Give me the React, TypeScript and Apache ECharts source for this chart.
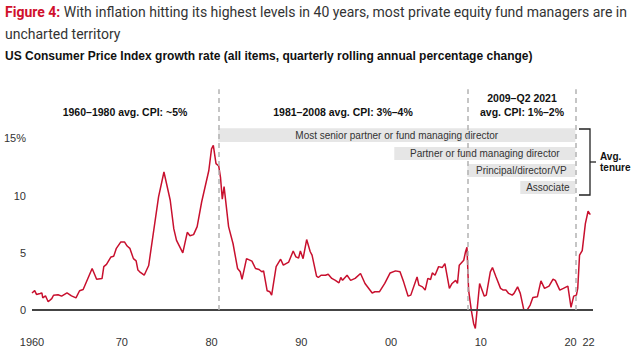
import React, { useEffect, useRef } from "react";
import * as echarts from "echarts";

// CPI growth rate (year, % change)
const years: number[] = [
  1960.0, 1960.3, 1960.5, 1960.9, 1961.1, 1961.2, 1961.5, 1961.8, 1962.2, 1962.4,
  1962.9, 1963.3, 1963.9, 1964.4, 1964.9, 1965.3, 1965.7, 1966.7, 1967.2, 1967.8,
  1968.0, 1968.3, 1968.8, 1969.1, 1969.4, 1969.9, 1970.3, 1970.6, 1970.9, 1971.3,
  1971.6, 1971.8, 1972.0, 1972.5, 1973.0, 1974.1, 1974.7, 1975.4, 1975.8, 1976.1,
  1976.8, 1977.3, 1977.6, 1978.0, 1978.4, 1978.9, 1979.7, 1980.0, 1980.2, 1980.5,
  1980.8, 1981.0, 1981.2, 1981.4, 1981.9, 1982.4, 1982.9, 1983.2, 1983.4, 1983.9,
  1984.5, 1984.9, 1985.3, 1985.6, 1985.8, 1986.2, 1986.5, 1986.7, 1987.2, 1987.7,
  1988.0, 1988.6, 1989.1, 1989.4, 1989.7, 1989.9, 1990.2, 1990.6, 1991.0, 1991.2,
  1991.7, 1991.9, 1992.2, 1992.7, 1993.0, 1993.4, 1993.8, 1994.2, 1994.4, 1994.6,
  1995.1, 1995.5, 1996.0, 1996.6, 1997.1, 1997.9, 1998.2, 1998.7, 1999.3, 1999.9,
  2000.5, 2001.0, 2001.4, 2001.9, 2002.2, 2002.9, 2003.1, 2003.5, 2003.8, 2004.1,
  2004.4, 2004.6, 2004.9, 2005.3, 2005.7, 2006.0, 2006.5, 2006.8, 2007.2, 2007.4,
  2007.6, 2008.1, 2008.3, 2008.46, 2008.64, 2008.94, 2009.2, 2009.39, 2009.87, 2010.39,
  2010.61, 2011.06, 2011.3, 2011.7, 2012.2, 2012.5, 2012.8, 2013.1, 2013.5, 2013.7,
  2014.1, 2014.4, 2014.8, 2015.15, 2015.5, 2015.8, 2016.3, 2016.7, 2017.1, 2017.6,
  2018.05, 2018.3, 2018.8, 2019.2, 2019.7, 2020.05, 2020.35, 2020.65, 2020.8, 2021.0,
  2021.3, 2021.65, 2021.95, 2022.2,
];
const cpi: number[] = [
  1.5, 1.7, 1.37, 1.45, 1.5, 1.07, 1.25, 0.73, 1.0, 1.3,
  1.34, 1.22, 1.5, 1.25, 1.07, 1.69, 1.8, 3.64, 2.7, 2.76,
  3.8, 4.0, 4.65, 4.7, 5.4, 5.96, 5.96, 5.6, 5.4, 4.5,
  4.3, 3.5, 3.35, 3.05, 3.9, 9.9, 12.07, 9.6, 7.1, 6.1,
  5.0, 6.8, 6.5, 6.6, 7.3, 9.45, 12.2, 14.1, 14.4, 12.8,
  12.6, 11.6, 9.7, 10.8, 7.3, 5.8, 3.64, 3.35, 2.68, 4.5,
  4.28, 3.64, 3.55, 3.35, 3.43, 1.69, 1.6, 1.31, 3.8, 4.45,
  3.93, 4.2, 5.17, 4.65, 4.56, 5.17, 4.5, 6.17, 5.1, 4.8,
  2.97, 2.85, 3.05, 3.05, 3.14, 2.77, 2.6, 2.38, 2.85, 2.6,
  3.05, 2.6, 2.77, 3.2, 2.33, 1.5, 1.6, 1.6, 2.33, 3.25,
  3.43, 3.35, 2.47, 1.22, 1.31, 2.9, 2.18, 2.03, 1.75, 2.77,
  2.68, 3.25, 3.05, 3.8, 3.72, 4.07, 1.9, 2.33, 2.6, 2.33,
  3.93, 4.36, 5.1, 5.5, 1.75, 0.0, -1.16, -1.6, 2.33, 1.22,
  1.31, 3.35, 3.72, 2.9, 1.9, 1.75, 1.75, 1.46, 1.31, 1.46,
  2.03, 1.46, 0.0, 0.0, 0.44, 1.1, 1.16, 2.56, 1.9, 2.1,
  2.7, 2.6, 1.75, 1.9, 2.1, 0.24, 1.22, 1.31, 1.9, 4.8,
  5.2, 7.56, 8.64, 8.35,
];

const xTickValues: number[] = [1960, 1970, 1980, 1990, 2000, 2010, 2020, 2022];
const yTickValues: number[] = [0, 5, 10, 15];

// era separators (x positions in years)
const eraBreaks: number[] = [1980.85, 2008.53, 2020.53];

// average-tenure bars: start year, end year, top value, bottom value
const tenureLabels: string[] = [
  "Most senior partner or fund managing director",
  "Partner or fund managing director",
  "Principal/director/VP",
  "Associate",
];
const tenureStart: number[] = [1980.74, 2000.36, 2008.5, 2014.4];
const tenureEnd: number[] = [2020.53, 2020.53, 2020.53, 2020.53];
const tenureTop: number[] = [15.9, 14.25, 12.76, 11.28];
const tenureBottom: number[] = [14.69, 13.11, 11.63, 10.14];

const RED = "#c8102e";
const TEXT = "#333333";
const SANS = "'Liberation Sans', Arial, Helvetica, sans-serif";

export default function App() {
  const ref = useRef<HTMLDivElement>(null);

  useEffect(() => {
    document.body.style.margin = "0";
    if (!ref.current) return;
    const chart = echarts.init(ref.current, undefined, { renderer: "svg" });

    const lineData = years.map((y, i) => [y, cpi[i]]);

    const option: any = {
      animation: false,
      backgroundColor: "#ffffff",
      grid: { left: 32, right: 39, top: 87, bottom: 30, containLabel: false },
      xAxis: {
        type: "value",
        min: 1960,
        max: 2022.5,
        axisLine: { show: false },
        axisTick: { show: false },
        splitLine: { show: false },
        axisLabel: {
          customValues: xTickValues,
          color: TEXT,
          fontSize: 11,
          fontFamily: SANS,
          margin: 3,
          formatter: (v: number) =>
            v === 1960 ? "1960" : String(Math.round(v) % 100).padStart(2, "0"),
        },
      },
      yAxis: {
        type: "value",
        min: -2,
        max: 19.5,
        axisLine: { show: false },
        axisTick: { show: false },
        splitLine: { show: false },
        axisLabel: {
          customValues: yTickValues,
          color: TEXT,
          fontSize: 11,
          fontFamily: SANS,
          margin: 6,
          formatter: (v: number) => (v === 15 ? "15%" : String(v)),
        },
      },
      series: [
        {
          type: "line",
          data: lineData,
          showSymbol: false,
          symbol: "none",
          lineStyle: { color: RED, width: 1.5 },
          z: 3,
          markArea: {
            silent: true,
            itemStyle: { color: "#e6e6e6" },
            label: {
              show: true,
              position: "inside",
              color: TEXT,
              fontSize: 10,
              fontFamily: SANS,
            },
            data: tenureLabels.map((name, i) => [
              { name, coord: [tenureStart[i], tenureTop[i]] },
              { coord: [tenureEnd[i], tenureBottom[i]] },
            ]),
          },
          markLine: {
            silent: true,
            symbol: ["none", "none"],
            label: { show: false },
            data: [
              {
                yAxis: 0,
                lineStyle: { color: "#444444", width: 2, type: "solid" },
              },
              ...eraBreaks.map((x) => [
                {
                  coord: [x, 0],
                  lineStyle: { color: "#b3b3b3", width: 1.5, type: [5, 4] },
                },
                { coord: [x, 19.3] },
              ]),
            ],
          },
        },
      ],
      graphic: [
        {
          type: "text",
          left: 5,
          top: 5,
          style: {
            text: "{r|Figure 4:} With inflation hitting its highest levels in 40 years, most private equity fund managers are in",
            fill: TEXT,
            fontSize: 14,
            fontFamily: "Roboto, sans-serif",
            rich: {
              r: { fill: "#d0102c", fontWeight: "bold", fontSize: 14, fontFamily: "Roboto, sans-serif" },
            },
          },
        },
        {
          type: "text",
          left: 5,
          top: 27,
          style: {
            text: "uncharted territory",
            fill: TEXT,
            fontSize: 14,
            fontFamily: "Roboto, sans-serif",
          },
        },
        {
          type: "text",
          left: 5,
          top: 50,
          style: {
            text: "US Consumer Price Index growth rate (all items, quarterly rolling annual percentage change)",
            fill: "#111111",
            fontSize: 12,
            fontWeight: "bold",
            fontFamily: SANS,
          },
        },
        {
          type: "text",
          x: 125,
          y: 112,
          style: {
            text: "1960–1980 avg. CPI: ~5%",
            fill: "#111111",
            fontSize: 10.5,
            fontWeight: "bold",
            fontFamily: SANS,
            textAlign: "center",
            textVerticalAlign: "middle",
          },
        },
        {
          type: "text",
          x: 343,
          y: 112,
          style: {
            text: "1981–2008 avg. CPI: 3%–4%",
            fill: "#111111",
            fontSize: 10.5,
            fontWeight: "bold",
            fontFamily: SANS,
            textAlign: "center",
            textVerticalAlign: "middle",
          },
        },
        {
          type: "text",
          x: 522,
          y: 98,
          style: {
            text: "2009–Q2 2021",
            fill: "#111111",
            fontSize: 10.5,
            fontWeight: "bold",
            fontFamily: SANS,
            textAlign: "center",
            textVerticalAlign: "middle",
          },
        },
        {
          type: "text",
          x: 522,
          y: 112,
          style: {
            text: "avg. CPI: 1%–2%",
            fill: "#111111",
            fontSize: 10.5,
            fontWeight: "bold",
            fontFamily: SANS,
            textAlign: "center",
            textVerticalAlign: "middle",
          },
        },
        {
          type: "polyline",
          shape: { points: [[579, 129], [590, 129], [590, 195], [579, 195]] },
          style: { stroke: "#222222", lineWidth: 1.3, fill: "none" },
        },
        {
          type: "line",
          shape: { x1: 590, y1: 162, x2: 596, y2: 162 },
          style: { stroke: "#222222", lineWidth: 1.3 },
        },
        {
          type: "text",
          x: 600,
          y: 156,
          style: {
            text: "Avg.",
            fill: "#111111",
            fontSize: 10,
            fontWeight: "bold",
            fontFamily: SANS,
            textVerticalAlign: "middle",
          },
        },
        {
          type: "text",
          x: 600,
          y: 167,
          style: {
            text: "tenure",
            fill: "#111111",
            fontSize: 10,
            fontWeight: "bold",
            fontFamily: SANS,
            textVerticalAlign: "middle",
          },
        },
      ],
    };

    chart.setOption(option);
    return () => chart.dispose();
  }, []);

  return (
    <div
      ref={ref}
      style={{ position: "absolute", left: 0, top: 0, width: 632, height: 363 }}
    />
  );
}
